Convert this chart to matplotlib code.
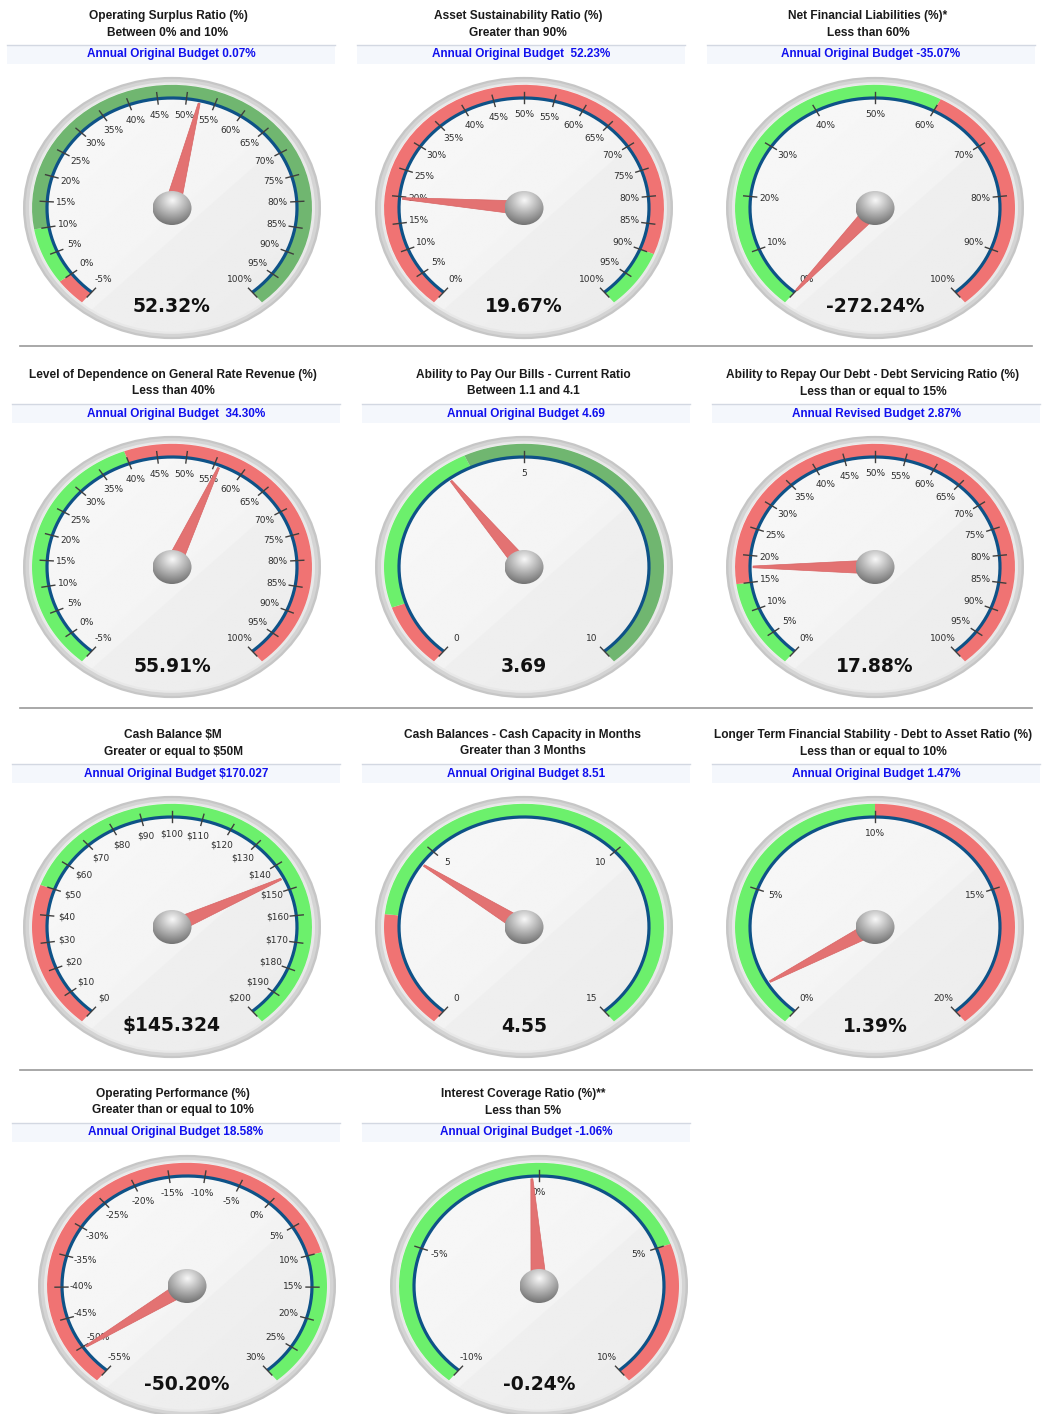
import numpy as np
import matplotlib
matplotlib.use("Agg")
import matplotlib.pyplot as plt
from matplotlib.patches import Ellipse, Polygon, Rectangle

# ---- data ----
titles = ["Operating Surplus Ratio (%)", "Asset Sustainability Ratio (%)",
          "Net Financial Liabilities (%)*",
          "Level of Dependence on General Rate Revenue (%)",
          "Ability to Pay Our Bills - Current Ratio",
          "Ability to Repay Our Debt - Debt Servicing Ratio (%)",
          "Cash Balance $M", "Cash Balances - Cash Capacity in Months",
          "Longer Term Financial Stability - Debt to Asset Ratio (%)",
          "Operating Performance (%)", "Interest Coverage Ratio (%)**"]
subtitles = ["Between 0% and 10%", "Greater than 90%", "Less than 60%",
             "Less than 40%", "Between 1.1 and 4.1", "Less than or equal to 15%",
             "Greater or equal to $50M", "Greater than 3 Months",
             "Less than or equal to 10%", "Greater than or equal to 10%",
             "Less than 5%"]
budgets = ["Annual Original Budget 0.07%", "Annual Original Budget  52.23%",
           "Annual Original Budget -35.07%", "Annual Original Budget  34.30%",
           "Annual Original Budget 4.69", "Annual Revised Budget 2.87%",
           "Annual Original Budget $170.027", "Annual Original Budget 8.51",
           "Annual Original Budget 1.47%", "Annual Original Budget 18.58%",
           "Annual Original Budget -1.06%"]
values = [52.32, 19.67, -272.24, 55.91, 3.69, 17.88, 145.324, 4.55, 1.39, -50.20, -0.24]
value_labels = ["52.32%", "19.67%", "-272.24%", "55.91%", "3.69", "17.88%",
                "$145.324", "4.55", "1.39%", "-50.20%", "-0.24%"]
scale_min = [-5, 0, 0, -5, 0, 0, 0, 0, 0, -55, -10]
scale_max = [100, 100, 100, 100, 10, 100, 200, 15, 20, 30, 10]
tick_step = [5, 5, 10, 5, 5, 5, 10, 5, 5, 5, 5]
tick_fmt = ["{:g}%", "{:g}%", "{:g}%", "{:g}%", "{:g}", "{:g}%",
            "${:g}", "{:g}", "{:g}%", "{:g}%", "{:g}%"]
bands = [
    [(-5, 0, "red"), (0, 10, "green"), (10, 100, "dark")],
    [(0, 90, "red"), (90, 100, "green")],
    [(0, 60, "green"), (60, 100, "red")],
    [(-5, 40, "green"), (40, 100, "red")],
    [(0, 1.1, "red"), (1.1, 4.1, "green"), (4.1, 10, "dark")],
    [(0, 15, "green"), (15, 100, "red")],
    [(0, 50, "red"), (50, 200, "green")],
    [(0, 3, "red"), (3, 15, "green")],
    [(0, 10, "green"), (10, 20, "red")],
    [(-55, 10, "red"), (10, 30, "green")],
    [(-10, 5, "green"), (5, 10, "red")],
]
band_colors = {"red": "#f07373", "green": "#6cf06c", "dark": "#70b670"}

W, H = 1042, 1414
K = 0.88          # vertical squash of the dials
A0, SWEEP = 230, 280

fig = plt.figure(figsize=(W / 100, H / 100), dpi=100)
ax = fig.add_axes([0, 0, 1, 1])
ax.set_xlim(0, W)
ax.set_ylim(H, 0)
ax.axis("off")


def ang(v, lo, hi):
    return np.radians(A0 - (v - lo) / (hi - lo) * SWEEP)


def pt(cx, cy, r, a):
    return cx + r * np.cos(a), cy - K * r * np.sin(a)


def clipped_image(arr, cx, cy, rx, ry, z):
    clip = Ellipse((cx, cy), 2 * rx, 2 * ry, facecolor="none", edgecolor="none")
    ax.add_patch(clip)
    im = ax.imshow(arr, cmap="gray", vmin=0, vmax=1, aspect="auto",
                   extent=(cx - rx, cx + rx, cy + ry, cy - ry),
                   interpolation="bilinear", zorder=z)
    im.set_clip_path(clip)


n = 160
gx, gy = np.meshgrid(np.linspace(-1, 1, n), np.linspace(-1, 1, n))
face = 0.975 - 0.035 * (gx + gy + 2) / 4
face[(gx + gy) > 0.25] -= 0.018
dist = np.sqrt(gx ** 2 + (gy + 0.45) ** 2)
ball = 0.97 - 0.52 * np.clip(dist / 1.45, 0, 1)


def draw_gauge(i, cx, cy):
    lo, hi = scale_min[i], scale_max[i]
    # bezel
    for r, c in [(149, "#c6c6c6"), (146.5, "#d4d4d4"), (143, "#e8e8e8")]:
        ax.add_patch(Ellipse((cx, cy), 2 * r, 2 * K * r, facecolor=c,
                             edgecolor="none", zorder=1))
    clipped_image(face, cx, cy, 140.5, 140.5 * K, 2)

    # coloured bands
    for b0, b1, key in bands[i]:
        t = np.linspace(ang(b0, lo, hi), ang(b1, lo, hi), 60)
        xo, yo = pt(cx, cy, 140, t)
        xi, yi = pt(cx, cy, 125, t[::-1])
        ax.add_patch(Polygon(np.column_stack([np.r_[xo, xi], np.r_[yo, yi]]),
                             closed=True, facecolor=band_colors[key],
                             edgecolor="none", zorder=3))

    # scale arc
    t = np.linspace(ang(lo, lo, hi), ang(hi, lo, hi), 200)
    xs, ys = pt(cx, cy, 125, t)
    ax.plot(xs, ys, color="#0e5287", lw=2.3, zorder=4, solid_capstyle="butt")

    # ticks and labels
    for v in np.arange(lo, hi + tick_step[i] * 0.01, tick_step[i]):
        a = ang(v, lo, hi)
        x0, y0 = pt(cx, cy, 119, a)
        x1, y1 = pt(cx, cy, 132, a)
        ax.plot([x0, x1], [y0, y1], color="#3e3e3e", lw=1.0, zorder=5)
        lx, ly = pt(cx, cy, 106, a)
        ax.text(lx, ly, tick_fmt[i].format(v), fontsize=6.5, color="#2e2e2e",
                ha="center", va="center", zorder=5, parse_math=False)

    # needle
    v = min(max(values[i], lo), hi)
    a = ang(v, lo, hi)
    tx, ty = pt(cx, cy, 122, a)
    px, py = -np.sin(a), np.cos(a)
    w0, w1 = 8, 1
    pts = [(cx + w0 * px, cy - K * w0 * py),
           (tx + w1 * px, ty - K * w1 * py),
           (tx - w1 * px, ty + K * w1 * py),
           (cx - w0 * px, cy + K * w0 * py)]
    ax.add_patch(Polygon(pts, closed=True, facecolor="#e37272",
                         edgecolor="#d86464", lw=0.5, zorder=6))

    # hub
    clipped_image(ball, cx, cy, 19.5, 17, 7)

    ax.text(cx, cy + 99, value_labels[i], fontsize=13.5, fontweight="bold",
            family="DejaVu Sans", color="#111111", ha="center", va="center",
            zorder=8, parse_math=False)


row_tops = [16, 375, 735, 1094]
for i in range(len(titles)):
    row, col = divmod(i, 3)
    top = row_tops[row]
    hx = (171 if row == 0 else 176) + 350 * col
    ax.text(hx - 3, top, titles[i], fontsize=8.6, fontweight="bold",
            family="Liberation Sans", color="#1a1a1a", ha="center",
            va="center", parse_math=False)
    ax.text(hx - 3, top + 16.5, subtitles[i], fontsize=8.6, fontweight="bold",
            family="Liberation Sans", color="#1a1a1a", ha="center",
            va="center", parse_math=False)
    ax.add_patch(Rectangle((hx - 164, top + 28.5), 328, 19, facecolor="#f4f7fc",
                           edgecolor="none", zorder=0))
    ax.plot([hx - 164, hx + 164], [top + 28.5, top + 28.5], color="#d3d8e2",
            lw=1, zorder=0)
    ax.text(hx, top + 38.5, budgets[i], fontsize=8.5, fontweight="bold",
            family="Liberation Sans", color="#1010ee", ha="center",
            va="center", parse_math=False)
    gx0 = [172, 524, 875][col] + (15 if row == 3 else 0)
    draw_gauge(i, gx0, top + 192)

for y in [346, 708, 1070]:
    ax.plot([20, 1032], [y, y], color="#999999", lw=1.2)

ax.set_xlim(0, W)
ax.set_ylim(H, 0)
fig.savefig("out.png", dpi=100, facecolor="white")
